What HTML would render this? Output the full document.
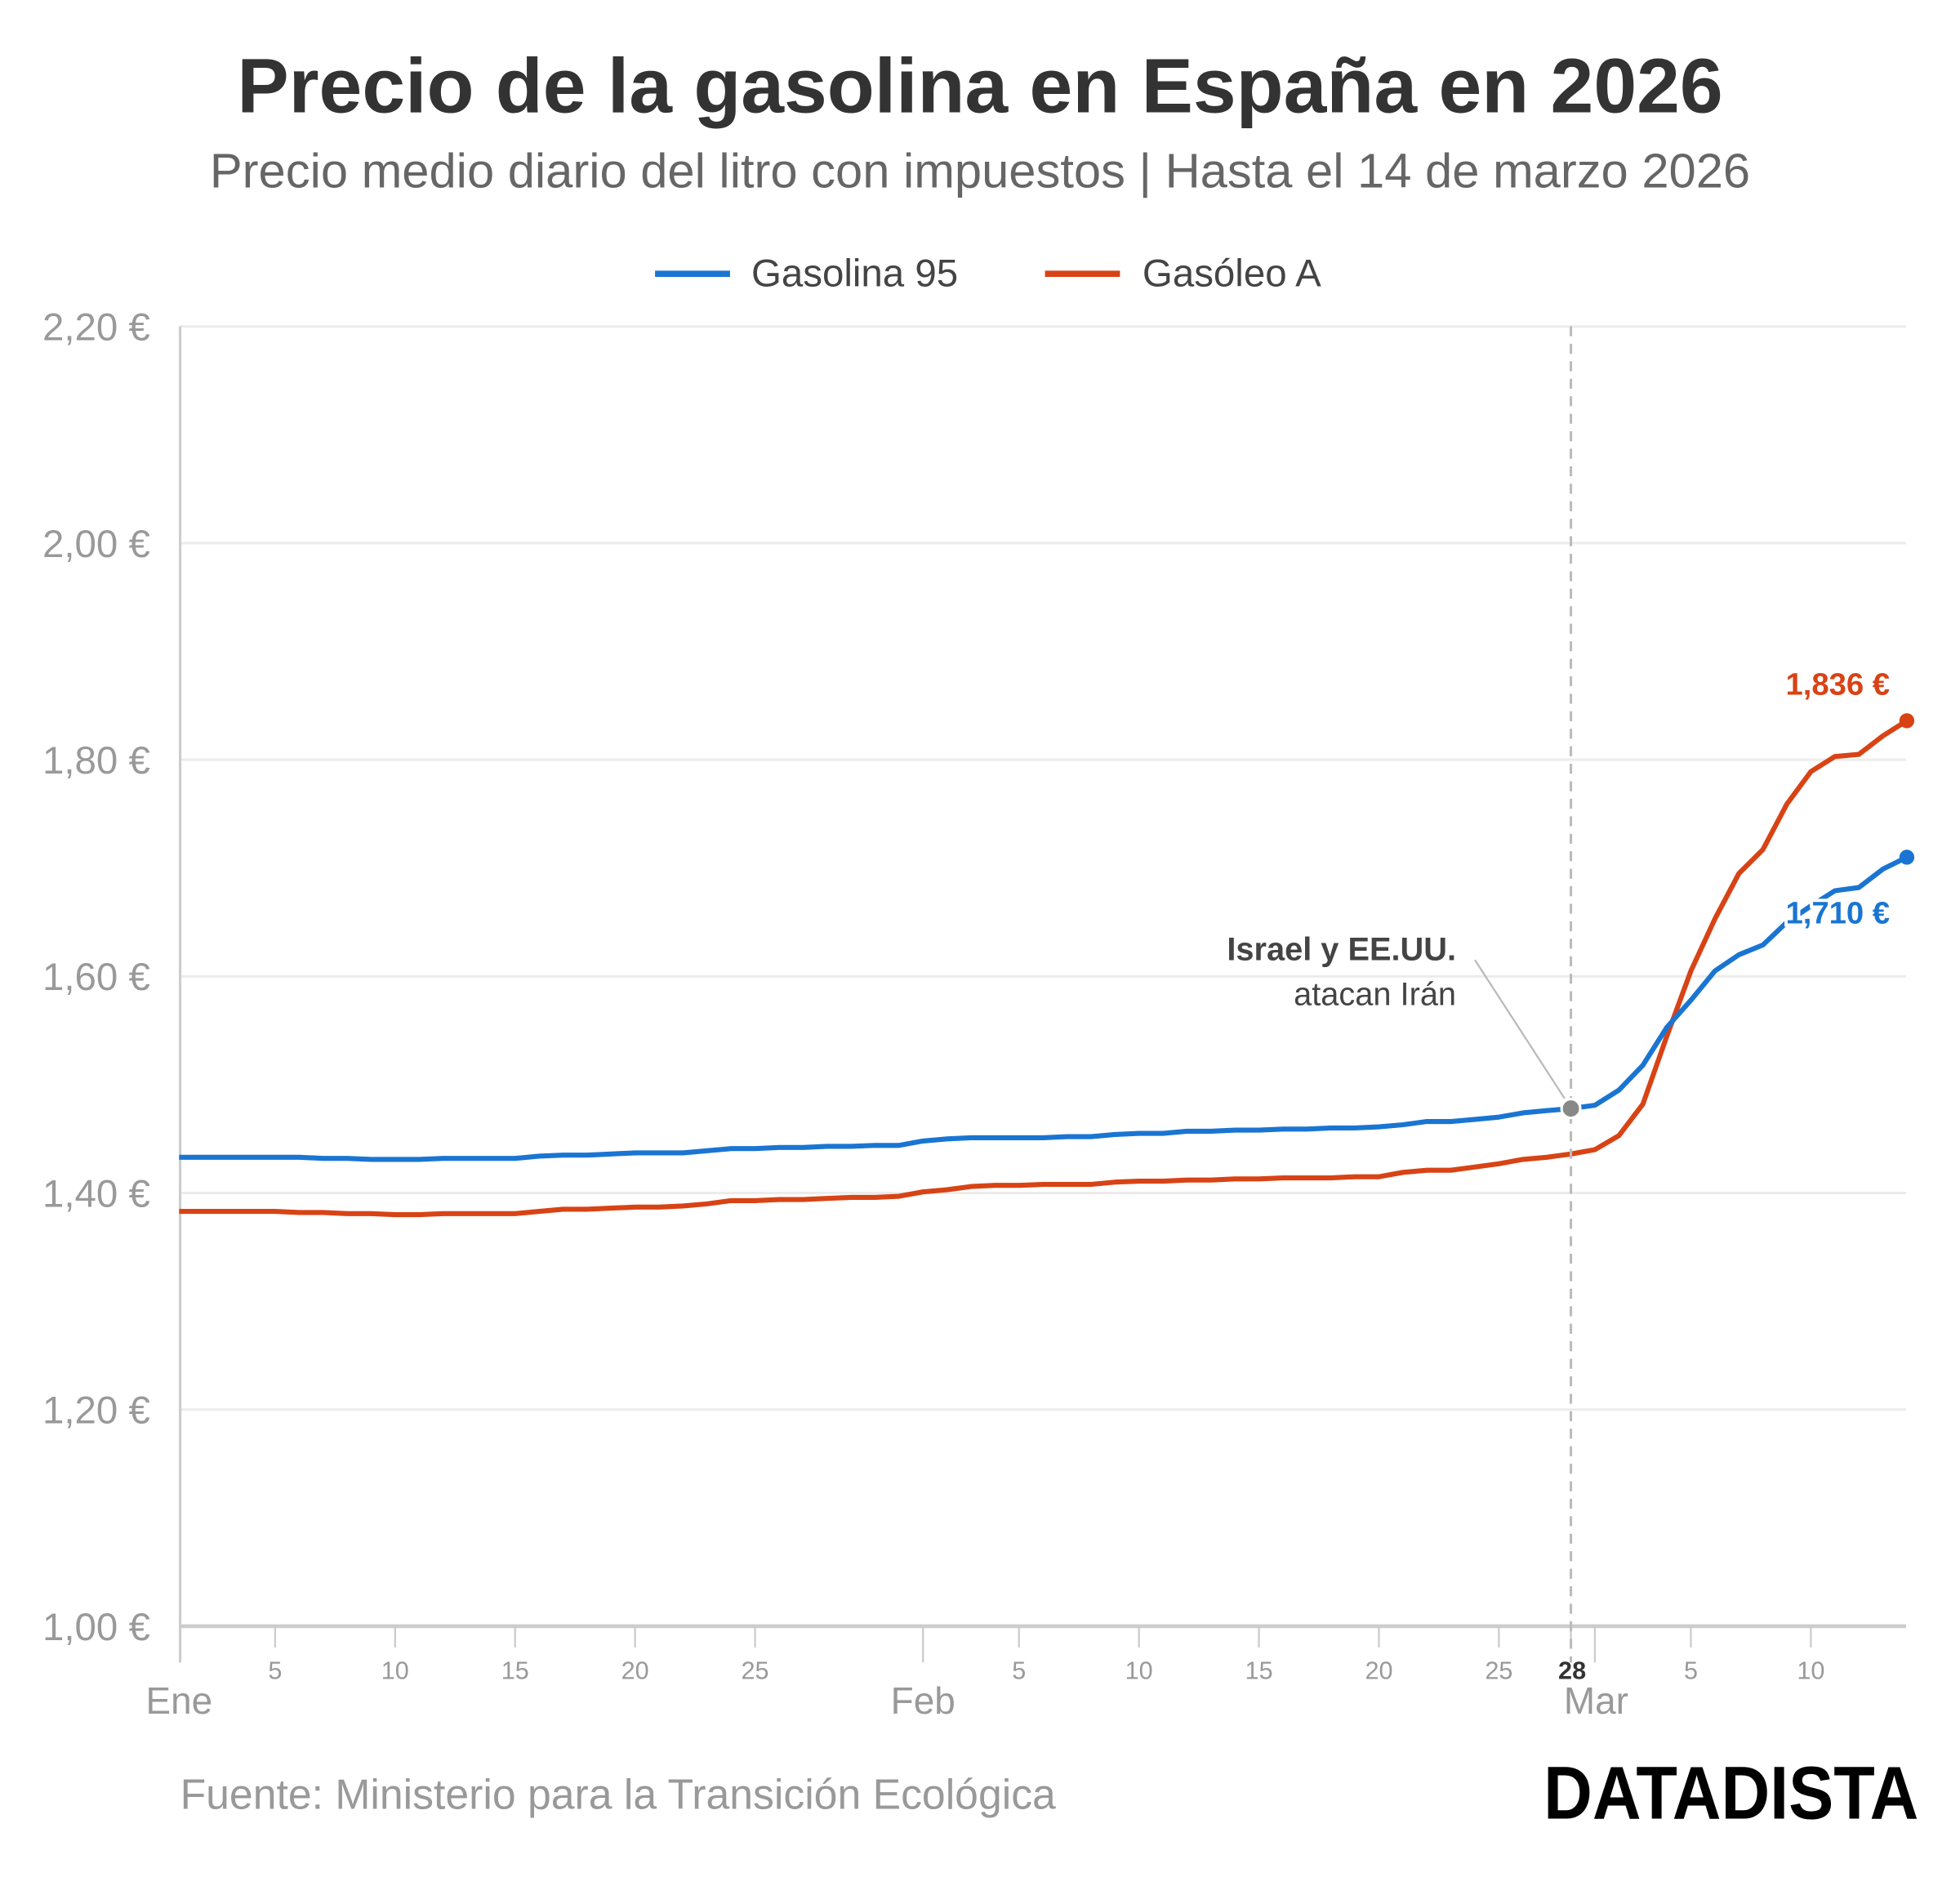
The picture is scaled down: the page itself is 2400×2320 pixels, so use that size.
<!DOCTYPE html>
<html><head><meta charset="utf-8"><style>
html,body{margin:0;padding:0;background:#fff;}
svg{display:block;font-family:"Liberation Sans",sans-serif;}
</style></head><body>
<svg id="chart" width="2400" height="2320" viewBox="0 0 1568 1516" xmlns="http://www.w3.org/2000/svg">
<text x="784" y="90" text-anchor="middle" font-size="62" font-weight="bold" fill="#333">Precio de la gasolina en España en 2026</text>
<text x="784" y="150" text-anchor="middle" font-size="39" fill="#666">Precio medio diario del litro con impuestos | Hasta el 14 de marzo 2026</text>
<g>
<line x1="524" y1="219" x2="584" y2="219" stroke="#1a75d2" stroke-width="5"/>
<text x="601" y="229" font-size="31" fill="#444">Gasolina 95</text>
<line x1="836" y1="219" x2="896" y2="219" stroke="#d84315" stroke-width="5"/>
<text x="914" y="229" font-size="31" fill="#444">Gasóleo A</text>
</g>
<g id="grid"></g><g id="axes"></g><g id="series"></g><g id="annot"></g>
<text x="144" y="1447" font-size="33.8" fill="#999">Fuente: Ministerio para la Transición Ecológica</text>
<text x="1535" y="1455" text-anchor="end" font-size="60" font-weight="bold" fill="#000" font-family="'Liberation Sans Narrow','Liberation Sans',sans-serif" textLength="300" lengthAdjust="spacingAndGlyphs">DATADISTA</text>
</svg>
<script>
const yTicks=[1.0,1.2,1.4,1.6,1.8,2.0,2.2];
const yTickLabels=["1,00 €","1,20 €","1,40 €","1,60 €","1,80 €","2,00 €","2,20 €"];
const dayTicks=[4,9,14,19,24,35,40,45,50,55,58,63,68];
const dayTickLabels=["5","10","15","20","25","5","10","15","20","25","28","5","10"];
const monthStarts=[0,31,59];
const monthLabels=["Ene","Feb","Mar"];
const gasolina95=[1.433,1.433,1.433,1.433,1.433,1.433,1.432,1.432,1.431,1.431,1.431,1.432,1.432,1.432,1.432,1.434,1.435,1.435,1.436,1.437,1.437,1.437,1.439,1.441,1.441,1.442,1.442,1.443,1.443,1.444,1.444,1.448,1.450,1.451,1.451,1.451,1.451,1.452,1.452,1.454,1.455,1.455,1.457,1.457,1.458,1.458,1.459,1.459,1.460,1.460,1.461,1.463,1.466,1.466,1.468,1.470,1.474,1.476,1.478,1.481,1.495,1.518,1.553,1.578,1.605,1.620,1.629,1.650,1.665,1.679,1.682,1.699,1.710];
const gasoleoA=[1.383,1.383,1.383,1.383,1.383,1.382,1.382,1.381,1.381,1.380,1.380,1.381,1.381,1.381,1.381,1.383,1.385,1.385,1.386,1.387,1.387,1.388,1.390,1.393,1.393,1.394,1.394,1.395,1.396,1.396,1.397,1.401,1.403,1.406,1.407,1.407,1.408,1.408,1.408,1.410,1.411,1.411,1.412,1.412,1.413,1.413,1.414,1.414,1.414,1.415,1.415,1.419,1.421,1.421,1.424,1.427,1.431,1.433,1.436,1.440,1.453,1.482,1.545,1.605,1.653,1.695,1.717,1.759,1.789,1.803,1.805,1.822,1.836];
const NS="http://www.w3.org/2000/svg";
const X0=143.2,DX=19.2,Y0=1301,YP=866.5;
function xS(d){return X0+d*DX;}
function yS(v){return Y0-(v-1.0)*YP;}
function mk(tag,attrs,parent,txt){const e=document.createElementNS(NS,tag);for(const k in attrs)e.setAttribute(k,attrs[k]);if(txt!==undefined)e.textContent=txt;parent.appendChild(e);return e;}
const grid=document.getElementById('grid'),axes=document.getElementById('axes'),series=document.getElementById('series'),annot=document.getElementById('annot');
yTicks.forEach((t,i)=>{
  if(i>0){const g=mk('line',{x1:144,x2:1525,y1:yS(t),y2:yS(t),stroke:'#ececec','stroke-width':2},grid);
  
  }
  const l=mk('text',{x:120,y:yS(t)+11,'text-anchor':'end','font-size':31,fill:'#999'},axes,yTickLabels[i]);
  
  
});
const base=mk('line',{x1:144,x2:1525,y1:Y0,y2:Y0,stroke:'#ccc','stroke-width':3},axes);


const ya=mk('line',{x1:144,x2:144,y1:261,y2:1330,stroke:'#ccc','stroke-width':2},axes);


dayTicks.forEach((d,i)=>{
  const t=mk('line',{x1:xS(d),x2:xS(d),y1:Y0,y2:1318,stroke:'#ccc','stroke-width':1.5},axes);
  
  
  const dk=dayTickLabels[i]==="28"&&d===58;
  const l=mk('text',{x:xS(d)+(dk?1:0),y:1343,'text-anchor':'middle','font-size':20,fill:dk?'#333':'#999','font-weight':dk?'bold':'normal'},axes,dayTickLabels[i]);
  
  
});
monthStarts.forEach((d,i)=>{
  const t=mk('line',{x1:xS(d)+(i==0?0.8:0),x2:xS(d)+(i==0?0.8:0),y1:Y0,y2:1330,stroke:'#ccc','stroke-width':1.5},axes);
  
  
  const l=mk('text',{x:xS(d)+(i==2?1:0),y:1371,'text-anchor':'middle','font-size':30,fill:'#999'},axes,monthLabels[i]);
  
  
});
const vl=mk('line',{x1:xS(58),x2:xS(58),y1:261,y2:1330,stroke:'#bbb','stroke-width':2,'stroke-dasharray':'8,6'},annot);


function path(arr,color,name){
  const d=arr.map((v,i)=>(i?'L':'M')+xS(i).toFixed(1)+','+yS(v).toFixed(1)).join('');
  const p=mk('path',{d:d,fill:'none',stroke:color,'stroke-width':4,'stroke-linejoin':'round'},series);
  
  
  const n=arr.length-1;
  const c=mk('circle',{cx:xS(n),cy:yS(arr[n]),r:6,fill:color},series);
  
  
}
path(gasoleoA,'#d84315','series-gasoleo-a');
path(gasolina95,'#1a75d2','series-gasolina-95');
const n=gasolina95.length-1;
const rl=mk('text',{x:1512,y:yS(gasoleoA[n])-21,'text-anchor':'end','font-size':25,'font-weight':'bold',fill:'#d84315'},annot,(gasoleoA[n].toFixed(3)).replace('.',',')+' €');


const bl=mk('text',{x:1512,y:yS(gasolina95[n])+53,'text-anchor':'end','font-size':25,'font-weight':'bold',fill:'#1a75d2',stroke:'#fff','stroke-width':5,'paint-order':'stroke'},annot,(gasolina95[n].toFixed(3)).replace('.',',')+' €');


const conn=mk('line',{x1:1180,y1:768,x2:xS(58)-5,y2:yS(gasolina95[58])-8,stroke:'#bbb','stroke-width':1.5},annot);


const gd=mk('circle',{cx:xS(58),cy:yS(gasolina95[58]),r:7.5,fill:'#888',stroke:'#fff','stroke-width':2},annot);


const a1=mk('text',{x:1165,y:768,'text-anchor':'end','font-size':26,'font-weight':'bold',fill:'#444'},annot,'Israel y EE.UU.');


const a2=mk('text',{x:1165,y:804,'text-anchor':'end','font-size':26,fill:'#444'},annot,'atacan Irán');


</script>
</body></html>
